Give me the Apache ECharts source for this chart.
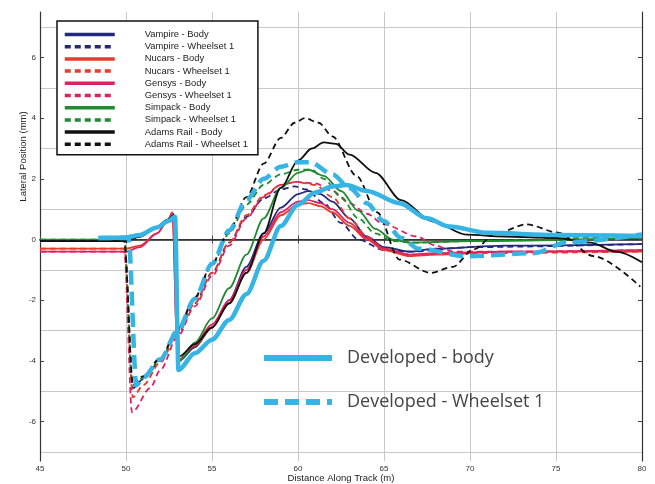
<!DOCTYPE html>
<html>
<head>
<meta charset="utf-8">
<script src="https://cdn.jsdelivr.net/npm/echarts@6/dist/echarts.min.js"></script>
<style>
    html, body { margin: 0; padding: 0; background: #fff; }
    #chart { width: 655px; height: 484px; }
</style>
</head>
<body>
<div id="chart"></div>
<script>
// y labels sit on even values, the grid lines on odd ones
const yLabels = [-6, -4, -2, 0, 2, 4, 6];
const yGrid = [-7, -5, -3, -1, 1, 3, 5, 7];

// [distance (m), lateral position (mm)]
const vampireBody = [[45,-0.05],[50,-0.05],[50.8,0.1],[51.8,0.4],[52.4,0.65],[52.75,0.85],[53.1,-4.0],[54,-3.55],[55,-2.9],[56,-2.0],[57,-0.9],[58,0.2],[59,1.05],[60,1.5],[60.6,1.6],[61.3,1.5],[62,1.25],[63,0.7],[64,0.1],[65,-0.25],[66.5,-0.4],[68,-0.3],[72,-0.2],[80,-0.15]];
const vampireWheelset = [[45,-0.05],[49.9,-0.05],[50.4,-4.9],[51,-4.6],[52,-4.0],[53,-3.1],[54,-2.1],[55,-1.1],[56,-0.1],[57,0.75],[58,1.35],[59,1.65],[59.8,1.75],[60.5,1.65],[61.5,1.2],[62.5,0.55],[63.5,0],[65,-0.35],[66.5,-0.4],[70,-0.25],[80,-0.15]];
const nucarsBody = [[45,-0.3],[50,-0.3],[50.8,-0.2],[51.8,0.2],[52.4,0.6],[52.7,0.9],[53.0,-4.0],[54,-3.5],[55,-2.9],[56,-2.1],[57,-1.1],[58,0],[59,0.8],[60,1.15],[60.6,1.2],[61.3,1.1],[62,0.9],[63,0.45],[64,0],[65,-0.35],[66.5,-0.55],[68,-0.5],[72,-0.4],[80,-0.4]];
const nucarsWheelset = [[45,-0.3],[49.9,-0.3],[50.4,-5.2],[51,-4.8],[52,-4.05],[53,-3.1],[54,-2.1],[55,-1.1],[56,-0.1],[57,0.8],[58,1.45],[59,1.8],[59.9,1.9],[61,1.8],[62,1.4],[63,0.7],[64,0.1],[65,-0.3],[66.5,-0.5],[70,-0.45],[80,-0.4]];
const gensysBody = [[45,-0.4],[50,-0.4],[50.8,-0.25],[51.8,0.2],[52.4,0.6],[52.7,0.85],[53.0,-4.0],[54,-3.45],[55,-2.8],[56,-2.0],[57,-1.0],[58,0.1],[59,0.9],[60,1.25],[60.6,1.3],[61.3,1.2],[62,1.0],[63,0.55],[64,0.05],[65,-0.3],[66.5,-0.5],[68,-0.45],[72,-0.4],[80,-0.35]];
const gensysWheelset = [[45,-0.4],[49.9,-0.4],[50.35,-5.7],[51.4,-4.9],[52,-4.3],[53,-3.2],[54,-2.2],[55,-1.2],[56,-0.2],[57,0.7],[58,1.4],[59,1.8],[59.9,1.9],[61,1.85],[62,1.6],[63,1.2],[64,0.85],[65,0.5],[66.9,0.1],[68,-0.2],[69,-0.4],[72,-0.4],[80,-0.35]];
const simpackBody = [[45,0.0],[50,0.0],[50.8,0.12],[51.8,0.42],[52.4,0.65],[52.75,0.8],[53.1,-4.0],[54,-3.4],[55,-2.6],[56,-1.6],[57,-0.5],[58,0.7],[59,1.7],[60,2.2],[60.6,2.3],[61.5,2.1],[62.5,1.6],[63.5,0.95],[64.5,0.35],[65.5,0],[66.5,-0.1],[70,-0.05],[80,0.05]];
const simpackWheelset = [[45,0.0],[49.9,0.0],[50.4,-4.8],[51,-4.55],[52,-3.95],[53,-3.0],[54,-1.95],[55,-0.85],[56,0.2],[57,1.15],[58,1.8],[59,2.15],[60,2.3],[60.8,2.3],[61.5,2.0],[62.5,1.4],[63.5,0.7],[64.5,0.2],[65.5,-0.05],[67,-0.1],[70,-0.05],[80,0.15]];
const adamsBody = [[45,-0.05],[50,-0.05],[50.8,0.1],[51.8,0.4],[52.4,0.65],[52.8,0.8],[53.1,-3.85],[54,-3.45],[55,-2.9],[56,-2.1],[57,-1.1],[58,0.2],[59,1.7],[60,2.6],[60.8,3.0],[61.5,3.2],[62.2,3.15],[63,2.8],[64.5,2.2],[66,1.3],[67.8,0.6],[69.8,0.16],[72,0.1],[75,0.05],[77,-0.1],[78.5,-0.4],[80,-0.75]];
const adamsWheelset = [[45,-0.05],[49.9,-0.05],[50.4,-4.8],[51,-4.5],[52,-3.9],[53,-2.95],[54,-1.9],[55,-0.8],[56,0.3],[57,1.4],[58,2.5],[59,3.35],[59.8,3.85],[60.4,4.0],[61.2,3.85],[62,3.4],[63.4,2.1],[64.6,0.9],[65.9,-0.66],[67.7,-1.1],[69,-0.9],[70.2,-0.33],[71.5,0.2],[73.3,0.5],[75.1,0.23],[77.2,-0.55],[79.9,-1.55]];
const developedBody = [[48.4,0.05],[50,0.07],[50.8,0.15],[51.8,0.4],[52.5,0.62],[52.85,0.75],[53.05,-4.3],[54,-3.75],[55,-3.3],[56,-2.65],[57,-1.8],[58,-0.7],[59,0.45],[60,1.15],[61,1.55],[62,1.75],[62.8,1.8],[64,1.6],[65.9,1.2],[67.5,0.7],[68.8,0.43],[71,0.22],[75,0.15],[80,0.12]];
const developedWheelset = [[48.4,0.05],[50.15,0.05],[50.6,-4.8],[51,-4.55],[52,-3.95],[53,-3.0],[54,-1.95],[55,-0.8],[56,0.3],[57,1.3],[58,2.0],[59,2.4],[60,2.55],[60.7,2.55],[62,2.15],[63,1.7],[64,1.2],[65,0.6],[66,0.05],[67,-0.3],[69.8,-0.55],[73.7,-0.45],[75.6,-0.1],[80,0.17]];

const NAVY = '#24287e', RED = '#ea3a28', PINK = '#de2160', GREEN = '#1f8a2f', BLACK = '#111111', BLUE = '#36b4e4';

function line(name, data, color, dashed, width) {
    return {
        name: name,
        type: 'line',
        data: data,
        symbol: 'none',
        smooth: 0.3,
        smoothMonotone: 'x',
        yAxisIndex: 0,
        lineStyle: { color: color, width: width || 1.8, type: dashed ? [6, 4] : 'solid' },
        itemStyle: { color: color }
    };
}

const refNames = ['Vampire - Body', 'Vampire - Wheelset 1', 'Nucars - Body', 'Nucars - Wheelset 1',
    'Gensys - Body', 'Gensys - Wheelset 1', 'Simpack - Body', 'Simpack - Wheelset 1',
    'Adams Rail - Body', 'Adams Rail - Wheelset 1'];

const series = [
    line(refNames[0], vampireBody, NAVY, false),
    line(refNames[1], vampireWheelset, NAVY, true),
    line(refNames[2], nucarsBody, RED, false),
    line(refNames[3], nucarsWheelset, RED, true),
    line(refNames[4], gensysBody, PINK, false),
    line(refNames[5], gensysWheelset, PINK, true),
    line(refNames[6], simpackBody, GREEN, false),
    line(refNames[7], simpackWheelset, GREEN, true),
    line(refNames[8], adamsBody, BLACK, false),
    line(refNames[9], adamsWheelset, BLACK, true)
];
const devBody = line('Developed - body', developedBody, BLUE, false, 4.5);
const devWheel = line('Developed - Wheelset 1', developedWheelset, BLUE, true, 4.5);
devWheel.lineStyle.type = [14, 7];
series.push(devWheel, devBody);

const smallFont = { fontFamily: 'Liberation Sans Narrow, Liberation Sans, sans-serif', fontSize: 8, color: '#333' };
const yMin = -7.3, yMax = 7.5;

const chart = echarts.init(document.getElementById('chart'));
chart.setOption({
    animation: false,
    backgroundColor: '#fff',
    grid: { left: 40, right: 13, top: 12, bottom: 23, outerBoundsMode: 'none', containLabel: false },
    xAxis: [{
        type: 'value', min: 45, max: 80, interval: 5, position: 'bottom',
        name: 'Distance Along Track (m)', nameLocation: 'middle', nameGap: 12, nameMoveOverlap: false,
        nameTextStyle: { fontFamily: smallFont.fontFamily, fontSize: 9.5, color: '#222' },
        axisLine: { show: true, lineStyle: { color: '#222', width: 1.5 } },
        axisTick: { inside: true, length: 4, lineStyle: { color: '#444' } },
        axisLabel: Object.assign({ margin: 4 }, smallFont),
        splitLine: { show: true, lineStyle: { color: '#c8c8c8', width: 1 } }
    }, {
        type: 'value', min: 45, max: 80, interval: 5, position: 'top',
        axisLine: { show: true, lineStyle: { color: '#333', width: 1.2 } },
        axisTick: { inside: true, length: 4, lineStyle: { color: '#444' } },
        axisLabel: { show: false },
        splitLine: { show: false }
    }],
    yAxis: [{
        type: 'value', min: yMin, max: yMax, position: 'left',
        axisLine: { show: true, lineStyle: { color: '#333', width: 1.2 } },
        axisTick: { show: false, customValues: yGrid },
        axisLabel: { show: false, customValues: yGrid },
        splitLine: { show: true, lineStyle: { color: '#c8c8c8', width: 1 } }
    }, {
        type: 'value', min: yMin, max: yMax, position: 'left',
        name: 'Lateral Position (mm)', nameLocation: 'middle', nameGap: 12, nameMoveOverlap: false,
        nameTextStyle: { fontFamily: smallFont.fontFamily, fontSize: 9.5, color: '#222', padding: [0, 0, 0, 160] },
        axisLine: { show: false },
        axisTick: { show: true, inside: true, length: 4, customValues: yLabels, lineStyle: { color: '#444' } },
        axisLabel: Object.assign({ customValues: yLabels, margin: 4 }, smallFont),
        splitLine: { show: false }
    }, {
        type: 'value', min: yMin, max: yMax, position: 'right',
        axisLine: { show: true, lineStyle: { color: '#333', width: 1.2 } },
        axisTick: { show: true, inside: true, length: 4, customValues: yLabels, lineStyle: { color: '#444' } },
        axisLabel: { show: false },
        splitLine: { show: false }
    }],
    legend: [{
        data: refNames,
        orient: 'vertical',
        left: 57, top: 21,
        padding: [9, 10, 6, 6],
        borderColor: '#111', borderWidth: 1.5,
        backgroundColor: '#fff',
        itemWidth: 50, itemHeight: 10, itemGap: 3.2,
        lineStyle: { width: 3.5 },
        itemStyle: { color: 'rgba(0,0,0,0)', borderWidth: 0 },
        textStyle: { fontFamily: 'Liberation Sans, sans-serif', fontSize: 9.4, color: '#222', padding: [0, 0, 0, 25] }
    }, {
        data: ['Developed - body', 'Developed - Wheelset 1'],
        orient: 'vertical',
        left: 256, top: 344,
        itemWidth: 68, itemHeight: 20, itemGap: 26,
        lineStyle: { width: 6 },
        itemStyle: { color: 'rgba(0,0,0,0)', borderWidth: 0 },
        textStyle: { fontFamily: 'Open Sans, sans-serif', fontSize: 18, color: '#444', padding: [0, 0, 0, 10] }
    }],
    series: series
});
</script>
</body>
</html>
